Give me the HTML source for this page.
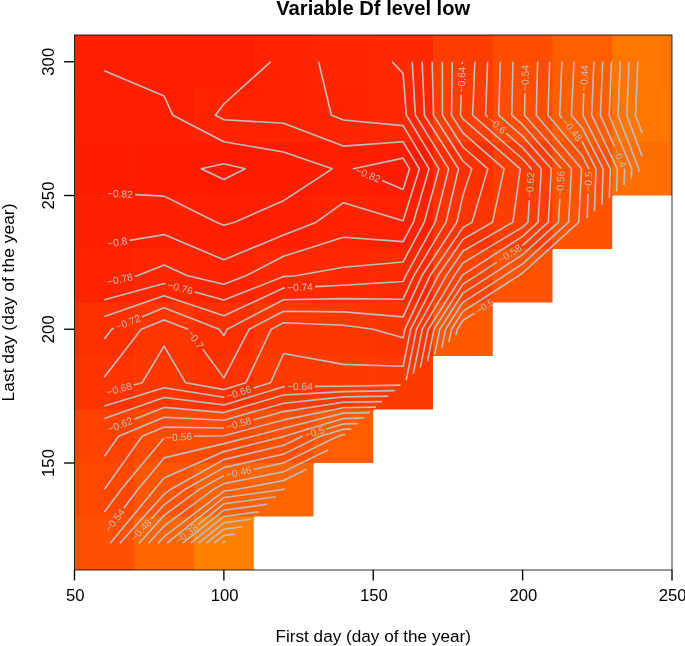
<!DOCTYPE html>
<html lang="en"><head><meta charset="utf-8"><title>Variable Df level low</title>
<style>html,body{margin:0;padding:0;background:#fff}svg{display:block}</style></head>
<body>
<svg width="685" height="646" viewBox="0 0 685 646">
<rect width="685" height="646" fill="#fff"/>
<g>
<rect x="74.50" y="35.00" width="60.45" height="54.20" fill="#FF1F00"/>
<rect x="134.25" y="35.00" width="60.45" height="54.20" fill="#FF2000"/>
<rect x="194.00" y="35.00" width="60.45" height="54.20" fill="#FF1F00"/>
<rect x="253.75" y="35.00" width="60.45" height="54.20" fill="#FF2300"/>
<rect x="313.50" y="35.00" width="60.45" height="54.20" fill="#FF2700"/>
<rect x="373.25" y="35.00" width="60.45" height="54.20" fill="#FF2900"/>
<rect x="433.00" y="35.00" width="60.45" height="54.20" fill="#FF3D00"/>
<rect x="492.75" y="35.00" width="60.45" height="54.20" fill="#FF4D00"/>
<rect x="552.50" y="35.00" width="60.45" height="54.20" fill="#FF5E00"/>
<rect x="612.25" y="35.00" width="59.75" height="54.20" fill="#FF7500"/>
<rect x="74.50" y="88.50" width="60.45" height="54.20" fill="#FF1E00"/>
<rect x="134.25" y="88.50" width="60.45" height="54.20" fill="#FF1E00"/>
<rect x="194.00" y="88.50" width="60.45" height="54.20" fill="#FF2300"/>
<rect x="253.75" y="88.50" width="60.45" height="54.20" fill="#FF2300"/>
<rect x="313.50" y="88.50" width="60.45" height="54.20" fill="#FF2600"/>
<rect x="373.25" y="88.50" width="60.45" height="54.20" fill="#FF2800"/>
<rect x="433.00" y="88.50" width="60.45" height="54.20" fill="#FF3E00"/>
<rect x="492.75" y="88.50" width="60.45" height="54.20" fill="#FF4E00"/>
<rect x="552.50" y="88.50" width="60.45" height="54.20" fill="#FF5F00"/>
<rect x="612.25" y="88.50" width="59.75" height="54.20" fill="#FF7600"/>
<rect x="74.50" y="142.00" width="60.45" height="54.20" fill="#FF1D00"/>
<rect x="134.25" y="142.00" width="60.45" height="54.20" fill="#FF1C00"/>
<rect x="194.00" y="142.00" width="60.45" height="54.20" fill="#FF1A00"/>
<rect x="253.75" y="142.00" width="60.45" height="54.20" fill="#FF1D00"/>
<rect x="313.50" y="142.00" width="60.45" height="54.20" fill="#FF1F00"/>
<rect x="373.25" y="142.00" width="60.45" height="54.20" fill="#FF1C00"/>
<rect x="433.00" y="142.00" width="60.45" height="54.20" fill="#FF3100"/>
<rect x="492.75" y="142.00" width="60.45" height="54.20" fill="#FF3E00"/>
<rect x="552.50" y="142.00" width="60.45" height="54.20" fill="#FF5200"/>
<rect x="612.25" y="142.00" width="59.75" height="53.50" fill="#FF6E00"/>
<rect x="74.50" y="195.50" width="60.45" height="54.20" fill="#FF2100"/>
<rect x="134.25" y="195.50" width="60.45" height="54.20" fill="#FF2100"/>
<rect x="194.00" y="195.50" width="60.45" height="54.20" fill="#FF1E00"/>
<rect x="253.75" y="195.50" width="60.45" height="54.20" fill="#FF2000"/>
<rect x="313.50" y="195.50" width="60.45" height="54.20" fill="#FF2400"/>
<rect x="373.25" y="195.50" width="60.45" height="54.20" fill="#FF2200"/>
<rect x="433.00" y="195.50" width="60.45" height="54.20" fill="#FF3500"/>
<rect x="492.75" y="195.50" width="60.45" height="54.20" fill="#FF3F00"/>
<rect x="552.50" y="195.50" width="59.75" height="53.50" fill="#FF5300"/>
<rect x="74.50" y="249.00" width="60.45" height="54.20" fill="#FF2400"/>
<rect x="134.25" y="249.00" width="60.45" height="54.20" fill="#FF2700"/>
<rect x="194.00" y="249.00" width="60.45" height="54.20" fill="#FF2400"/>
<rect x="253.75" y="249.00" width="60.45" height="54.20" fill="#FF2900"/>
<rect x="313.50" y="249.00" width="60.45" height="54.20" fill="#FF2A00"/>
<rect x="373.25" y="249.00" width="60.45" height="54.20" fill="#FF2B00"/>
<rect x="433.00" y="249.00" width="60.45" height="54.20" fill="#FF4400"/>
<rect x="492.75" y="249.00" width="59.75" height="53.50" fill="#FF5300"/>
<rect x="74.50" y="302.50" width="60.45" height="54.20" fill="#FF2F00"/>
<rect x="134.25" y="302.50" width="60.45" height="54.20" fill="#FF3600"/>
<rect x="194.00" y="302.50" width="60.45" height="54.20" fill="#FF2F00"/>
<rect x="253.75" y="302.50" width="60.45" height="54.20" fill="#FF3800"/>
<rect x="313.50" y="302.50" width="60.45" height="54.20" fill="#FF3700"/>
<rect x="373.25" y="302.50" width="60.45" height="54.20" fill="#FF3500"/>
<rect x="433.00" y="302.50" width="59.75" height="53.50" fill="#FF5800"/>
<rect x="74.50" y="356.00" width="60.45" height="54.20" fill="#FF3400"/>
<rect x="134.25" y="356.00" width="60.45" height="54.20" fill="#FF3800"/>
<rect x="194.00" y="356.00" width="60.45" height="54.20" fill="#FF3300"/>
<rect x="253.75" y="356.00" width="60.45" height="54.20" fill="#FF3C00"/>
<rect x="313.50" y="356.00" width="60.45" height="54.20" fill="#FF3B00"/>
<rect x="373.25" y="356.00" width="59.75" height="53.50" fill="#FF3C00"/>
<rect x="74.50" y="409.50" width="60.45" height="54.20" fill="#FF4200"/>
<rect x="134.25" y="409.50" width="60.45" height="54.20" fill="#FF4B00"/>
<rect x="194.00" y="409.50" width="60.45" height="54.20" fill="#FF4B00"/>
<rect x="253.75" y="409.50" width="60.45" height="54.20" fill="#FF5100"/>
<rect x="313.50" y="409.50" width="59.75" height="53.50" fill="#FF5D00"/>
<rect x="74.50" y="463.00" width="60.45" height="54.20" fill="#FF4700"/>
<rect x="134.25" y="463.00" width="60.45" height="54.20" fill="#FF5400"/>
<rect x="194.00" y="463.00" width="60.45" height="54.20" fill="#FF6200"/>
<rect x="253.75" y="463.00" width="59.75" height="53.50" fill="#FF6600"/>
<rect x="74.50" y="516.50" width="60.45" height="53.50" fill="#FF4F00"/>
<rect x="134.25" y="516.50" width="60.45" height="53.50" fill="#FF6500"/>
<rect x="194.00" y="516.50" width="59.75" height="53.50" fill="#FF7F00"/>
</g>
<g fill="none" stroke="#BEBEBE" stroke-width="1.6" stroke-linejoin="round" stroke-linecap="butt">
<polyline points="223.9,179.5 201.3,168.8 223.9,163.7 245.2,168.8 223.9,179.5"/>
<polyline points="135.1,194.6 164.1,196.1 216.4,222.2 223.9,225.2 234.5,222.2 283.6,200.7 332.2,168.8 283.6,152.0 223.9,141.7 172.8,115.2 164.1,96.0 104.4,70.7"/>
<polyline points="403.1,189.4 382.1,180.6"/>
<polyline points="354.1,169.0 353.5,168.8 403.1,158.1 409.6,168.8 403.1,189.4"/>
<polyline points="129.5,240.4 164.1,234.6 223.9,259.8 283.6,235.0 316.3,222.2 343.4,202.7 403.1,220.7 419.4,168.8 403.1,141.8 343.4,146.1 283.6,123.3 223.9,119.7 215.4,115.2 223.9,104.0 270.6,61.8"/>
<polyline points="134.7,276.3 137.1,275.8 164.1,265.1 187.6,275.8 223.9,284.3 245.9,275.8 283.6,256.2 343.4,237.2 403.1,241.6 413.4,222.2 429.1,168.8 403.1,125.6 343.4,120.0 331.4,115.2 318.6,61.8"/>
<polyline points="104.4,299.8 164.1,283.6 165.5,284.0"/>
<polyline points="194.7,292.0 223.9,300.1 283.6,276.6 296.1,275.8 343.4,267.2 403.1,262.0 424.3,222.2 438.9,168.8 406.4,115.2 403.1,73.4 392.1,61.8"/>
<polyline points="104.4,316.6 164.1,295.7 223.9,315.8 283.6,288.1 284.9,288.1"/>
<polyline points="315.1,286.6 343.4,285.3 403.1,281.5 405.7,275.8 435.2,222.2 448.7,168.8 415.4,115.2 412.2,61.8"/>
<polyline points="104.4,338.8 111.8,329.2 114.0,328.3"/>
<polyline points="142.1,316.8 164.1,307.8 219.2,329.2 223.9,335.6 227.2,329.2 283.6,299.7 343.4,298.6 403.1,299.2 413.8,275.8 446.0,222.2 458.5,168.8 424.4,115.2 422.2,61.8"/>
<polyline points="104.4,377.0 141.3,329.2 164.1,319.9 188.1,329.2 188.2,329.4"/>
<polyline points="202.8,349.3 223.9,377.9 249.2,329.2 283.6,311.2 343.4,311.9 403.1,316.9 421.9,275.8 456.9,222.2 462.9,195.5 471.8,168.8 462.9,161.0 433.5,115.2 432.2,61.8"/>
<polyline points="133.9,385.0 142.0,382.8 164.1,346.1 185.7,382.8 223.9,389.6 245.8,382.8 271.2,329.2 283.6,322.7 343.4,325.3 373.2,329.2 403.1,337.8 404.9,329.2 430.0,275.8 462.9,227.6 472.1,222.2 487.9,168.8 462.9,147.0 442.5,115.2 442.3,61.8"/>
<polyline points="104.4,406.0 164.1,387.7 223.9,397.2 224.4,397.1"/>
<polyline points="253.3,388.1 270.6,382.8 283.6,353.5 343.4,364.4 403.1,366.3 410.7,329.2 438.0,275.8 462.9,239.4 492.5,222.2 504.1,168.8 462.9,132.9 451.5,115.2 452.3,61.8"/>
<polyline points="104.4,418.6 164.1,397.5 223.9,404.9 283.6,386.7 284.9,386.7"/>
<polyline points="315.2,386.4 343.4,386.2 400.5,385.1"/>
<polyline points="462.4,61.8 462.3,64.3"/>
<polyline points="461.2,94.6 460.5,115.2 462.9,118.9 520.3,168.8 512.9,222.2 462.9,251.2 446.1,275.8 416.5,329.2 406.2,380.0"/>
<polyline points="134.2,419.3 164.1,407.4 223.9,412.6 283.6,395.0 343.4,391.6 394.4,390.6"/>
<polyline points="474.9,61.8 472.6,115.2 522.6,159.0 531.2,168.8 531.2,169.9"/>
<polyline points="529.3,200.2 528.0,222.2 522.6,227.1 462.9,263.0 454.2,275.8 422.3,329.2 413.3,373.7"/>
<polyline points="104.4,456.2 118.6,436.2 164.1,417.3 223.9,420.3 283.6,403.3 343.4,396.9 388.2,396.1"/>
<polyline points="487.6,61.8 485.6,115.2 487.8,117.2"/>
<polyline points="506.4,133.4 522.6,147.6 541.3,168.8 538.1,222.2 522.6,236.3 462.9,274.8 462.2,275.8 428.2,329.2 420.4,367.3"/>
<polyline points="104.4,489.4 142.2,436.2 164.1,427.1 223.9,428.0 224.1,427.9"/>
<polyline points="253.4,419.9 283.6,411.6 343.4,402.3 382.1,401.6"/>
<polyline points="500.3,61.8 498.7,115.2 522.6,136.1 551.3,168.8 548.3,222.2 522.6,245.4 522.4,245.6"/>
<polyline points="497.0,262.1 475.9,275.8 462.9,284.1 434.0,329.2 427.5,360.9"/>
<polyline points="104.4,512.1 120.9,489.8 164.0,438.0"/>
<polyline points="194.1,436.2 223.9,435.7 283.6,419.9 343.4,407.7 375.9,407.1"/>
<polyline points="513.0,61.8 511.8,115.2 522.6,124.7 561.2,168.5"/>
<polyline points="559.8,198.6 558.5,222.2 522.6,254.6 490.1,275.8 462.9,293.2 439.8,329.2 434.7,354.5"/>
<polyline points="123.9,508.3 137.6,489.8 164.1,457.9 223.9,443.6 253.1,436.2 283.6,428.2 343.4,413.1 369.8,412.6"/>
<polyline points="525.0,93.1 524.6,115.2 571.5,168.8 568.6,222.2 522.6,263.8 504.2,275.8 462.9,302.3 445.6,329.2 441.8,348.1"/>
<polyline points="110.3,543.2 154.3,489.8 164.1,478.0 223.9,451.6 283.6,436.6 284.3,436.2 343.4,418.5 363.7,418.1"/>
<polyline points="537.6,61.8 536.3,115.2 581.5,168.8 578.8,222.2 522.6,273.0 518.4,275.8 462.9,311.4 451.5,329.2 448.9,341.8"/>
<polyline points="119.9,543.2 164.1,494.2 170.0,489.8 223.9,459.6 283.6,445.3 302.2,436.2 302.8,436.1"/>
<polyline points="326.4,429.0 343.4,423.9 357.5,423.6"/>
<polyline points="474.4,313.1 462.9,320.5 457.3,329.2 456.0,335.4"/>
<polyline points="587.2,218.0 588.0,193.8"/>
<polyline points="588.9,169.2 588.9,168.8 582.4,156.1 548.0,115.2 549.7,61.8"/>
<polyline points="151.3,519.0 164.1,504.8 184.3,489.8 223.9,467.6 283.6,454.1 320.1,436.2 343.4,429.2 351.4,429.1"/>
<polyline points="594.5,211.4 596.0,168.8 582.4,142.2 581.8,141.5"/>
<polyline points="562.3,118.4 559.7,115.2 561.9,61.8"/>
<polyline points="139.0,543.2 164.1,515.4 198.6,489.8 223.9,475.6"/>
<polyline points="253.5,469.3 283.6,462.9 338.0,436.2 343.4,434.6 345.2,434.6"/>
<polyline points="601.9,204.8 603.2,168.8 582.4,128.3 571.4,115.2 574.0,61.8"/>
<polyline points="148.6,543.2 164.1,526.0 212.8,489.8 223.9,483.6 283.6,471.7 328.2,449.9"/>
<polyline points="583.8,93.1 582.9,115.2 610.3,168.8 609.3,198.2"/>
<polyline points="158.1,543.2 164.1,536.6 223.9,491.2 234.4,489.8 283.6,480.5 306.4,469.3"/>
<polyline points="593.9,61.8 591.7,115.2 617.4,168.8 616.6,191.6"/>
<polyline points="167.1,543.2 223.9,497.5 281.3,489.8 283.6,489.3 284.7,488.8"/>
<polyline points="602.7,61.8 600.4,115.2 614.4,146.3"/>
<polyline points="624.6,168.7 624.6,168.8 624.0,185.0"/>
<polyline points="197.9,524.8 223.9,503.8 275.7,496.8"/>
<polyline points="611.5,61.8 609.2,115.2 631.7,168.8 631.4,178.4"/>
<polyline points="182.8,543.2 223.9,510.2 267.4,504.3"/>
<polyline points="620.3,61.8 618.0,115.2 638.8,168.8 638.7,171.8"/>
<polyline points="190.7,543.2 223.9,516.5 259.1,511.7"/>
<polyline points="642.1,156.1 626.8,115.2 629.1,61.8"/>
<polyline points="198.5,543.2 223.9,522.8 250.7,519.2"/>
<polyline points="642.1,132.8 635.5,115.2 637.9,61.8"/>
<polyline points="206.4,543.2 223.9,529.2 242.4,526.7"/>
<polyline points="214.2,543.2 223.9,535.5 234.1,534.1"/>
<polyline points="222.1,543.2 223.9,541.8 225.7,541.6"/>
</g>
<g font-family="'Liberation Sans', Arial, sans-serif" font-size="10.2" fill="#BEBEBE" text-anchor="middle">
<text transform="translate(119.93 193.91) rotate(2.8)" y="3.4">−0.82</text>
<text transform="translate(117.31 242.37) rotate(-9.4)" y="3.4">−0.8</text>
<text transform="translate(119.89 279.52) rotate(-12.3)" y="3.4">−0.78</text>
<text transform="translate(180.13 288.02) rotate(15.4)" y="3.4">−0.76</text>
<text transform="translate(299.99 287.36) rotate(-2.7)" y="3.4">−0.74</text>
<text transform="translate(128.06 322.58) rotate(-22.3)" y="3.4">−0.72</text>
<text transform="translate(368.08 174.81) rotate(22.6)" y="3.4">−0.82</text>
<text transform="translate(461.76 79.49) rotate(-88.0)" y="3.4">−0.64</text>
<text transform="translate(525.25 78.00) rotate(-89.0)" y="3.4">−0.54</text>
<text transform="translate(584.41 78.00) rotate(-87.7)" y="3.4">−0.44</text>
<text transform="translate(497.08 125.26) rotate(41.1)" y="3.4">−0.6</text>
<text transform="translate(572.07 129.94) rotate(49.9)" y="3.4">−0.48</text>
<text transform="translate(619.50 157.50) rotate(65.7)" y="3.4">−0.4</text>
<text transform="translate(530.23 185.04) rotate(-86.5)" y="3.4">−0.62</text>
<text transform="translate(560.46 183.55) rotate(-87.4)" y="3.4">−0.56</text>
<text transform="translate(588.45 181.52) rotate(-88.0)" y="3.4">−0.5</text>
<text transform="translate(509.73 253.81) rotate(-33.0)" y="3.4">−0.58</text>
<text transform="translate(484.78 306.44) rotate(-32.7)" y="3.4">−0.5</text>
<text transform="translate(195.52 339.35) rotate(53.7)" y="3.4">−0.7</text>
<text transform="translate(119.34 389.19) rotate(-15.9)" y="3.4">−0.68</text>
<text transform="translate(238.84 392.60) rotate(-17.2)" y="3.4">−0.66</text>
<text transform="translate(300.01 386.55) rotate(-0.5)" y="3.4">−0.64</text>
<text transform="translate(120.17 424.92) rotate(-21.7)" y="3.4">−0.62</text>
<text transform="translate(238.75 423.91) rotate(-15.3)" y="3.4">−0.58</text>
<text transform="translate(179.05 437.10) rotate(-3.2)" y="3.4">−0.56</text>
<text transform="translate(314.60 432.51) rotate(-16.7)" y="3.4">−0.5</text>
<text transform="translate(238.70 472.44) rotate(-11.9)" y="3.4">−0.46</text>
<text transform="translate(114.91 520.44) rotate(-53.5)" y="3.4">−0.54</text>
<text transform="translate(141.19 530.22) rotate(-48.0)" y="3.4">−0.48</text>
<text transform="translate(186.42 534.00) rotate(-38.8)" y="3.4">−0.38</text>
</g>
<rect x="74.50" y="35.00" width="597.50" height="535.00" fill="none" stroke="#000" stroke-opacity="0.82" stroke-width="1"/>
<g fill="none" stroke="#000" stroke-width="1.35">
<path d="M74.50 570.00 v10.4"/>
<path d="M223.88 570.00 v10.4"/>
<path d="M373.25 570.00 v10.4"/>
<path d="M522.62 570.00 v10.4"/>
<path d="M672.00 570.00 v10.4"/>
<path d="M74.50 463.00 h-10.4"/>
<path d="M74.50 329.25 h-10.4"/>
<path d="M74.50 195.50 h-10.4"/>
<path d="M74.50 61.75 h-10.4"/>
</g>
<g font-family="'Liberation Sans', Arial, sans-serif" font-size="16.67" fill="#000" text-anchor="middle">
<text x="75.20" y="601.40">50</text>
<text x="224.57" y="601.40">100</text>
<text x="373.95" y="601.40">150</text>
<text x="523.33" y="601.40">200</text>
<text x="672.70" y="601.40">250</text>
<text transform="translate(53.70 463.00) rotate(-90)">150</text>
<text transform="translate(53.70 329.25) rotate(-90)">200</text>
<text transform="translate(53.70 195.50) rotate(-90)">250</text>
<text transform="translate(53.70 61.75) rotate(-90)">300</text>
<text x="373.25" y="642.3" textLength="195.5" lengthAdjust="spacingAndGlyphs">First day (day of the year)</text>
<text transform="translate(14.3 302.50) rotate(-90)" textLength="198" lengthAdjust="spacingAndGlyphs">Last day (day of the year)</text>
<text x="373.25" y="14.6" font-size="20" font-weight="bold" textLength="194" lengthAdjust="spacingAndGlyphs">Variable Df level low</text>
</g>
</svg>
</body></html>
